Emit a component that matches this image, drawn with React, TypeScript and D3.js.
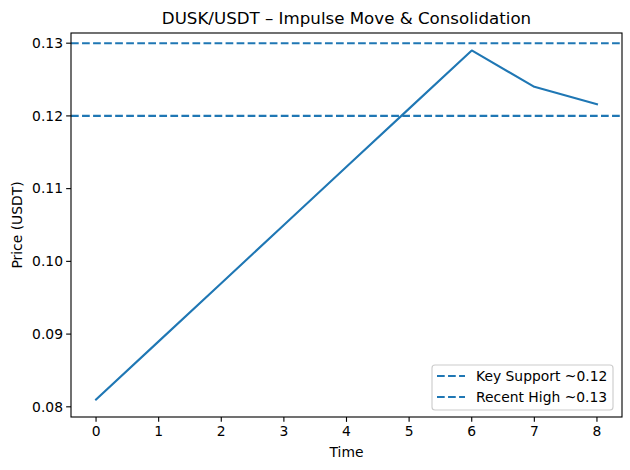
import React from "react";
import * as d3 from "d3";

const times = [0, 1, 2, 3, 4, 5, 6, 7, 8];
const prices = [0.081, 0.089, 0.097, 0.105, 0.113, 0.121, 0.129, 0.124, 0.1216];
const xTicks = [0, 1, 2, 3, 4, 5, 6, 7, 8];
const yTicks = [0.08, 0.09, 0.1, 0.11, 0.12, 0.13];
const levels = [
  { label: "Key Support ~0.12", value: 0.12 },
  { label: "Recent High ~0.13", value: 0.13 },
];

const W = 630, H = 470;
const L = 71, R = 622, T = 33, B = 417;
const C = "#1f77b4";
const FONT = "DejaVu Sans, sans-serif";
const PT = 100 / 72;
const FS = 10 * PT;
const TFS = 12 * PT;

export default function App() {
  const lo = d3.min(prices)!, hi = d3.max(prices)!;
  const pad = (hi - lo) * 0.05;
  const x = d3.scaleLinear().domain([-0.4, 8.4]).range([L, R]);
  const y = d3.scaleLinear().domain([lo - pad, hi + pad]).range([B, T]);
  const line = d3.line<number>().x((_, i) => x(times[i])).y((d) => y(d));
  const dash = `${5.55 * PT},${2.4 * PT}`;
  const lw = 1.5 * PT;
  const sw = 0.8 * PT;
  const tl = 3.5 * PT;
  return (
    <svg width={W} height={H} style={{ position: "absolute", left: 0, top: 0, background: "#fff" }} fontFamily={FONT}>
      <rect x={0} y={0} width={W} height={H} fill="#fff" />
      {levels.map((lv) => (
        <line key={lv.label} x1={L} x2={R} y1={y(lv.value)} y2={y(lv.value)} stroke={C} strokeWidth={lw} strokeDasharray={dash} />
      ))}
      <path d={line(prices)!} fill="none" stroke={C} strokeWidth={lw} strokeLinejoin="round" strokeLinecap="square" />
      <rect x={L} y={T} width={R - L} height={B - T} fill="none" stroke="#000" strokeWidth={sw} />
      {xTicks.map((t) => (
        <g key={t}>
          <line x1={x(t)} x2={x(t)} y1={B} y2={B + tl} stroke="#000" strokeWidth={sw} />
          <text x={x(t)} y={B + 19} textAnchor="middle" fill="#000" fontSize={FS}>{t}</text>
        </g>
      ))}
      {yTicks.map((t) => (
        <g key={t}>
          <line x1={L - tl} x2={L} y1={y(t)} y2={y(t)} stroke="#000" strokeWidth={sw} />
          <text x={L - 8} y={y(t)} dy="0.35em" textAnchor="end" fill="#000" fontSize={FS}>{t.toFixed(2)}</text>
        </g>
      ))}
      <text x={(L + R) / 2} y={24} textAnchor="middle" fill="#000" fontSize={TFS}>DUSK/USDT – Impulse Move &amp; Consolidation</text>
      <text x={(L + R) / 2} y={457} textAnchor="middle" fill="#000" fontSize={FS}>Time</text>
      <text transform={`translate(22,${(T + B) / 2}) rotate(-90)`} textAnchor="middle" fill="#000" fontSize={FS}>Price (USDT)</text>
      <g>
        <rect x={432} y={365} width={181} height={45} rx={3} fill="#fff" fillOpacity={0.8} stroke="#ccc" strokeWidth={sw} />
        {levels.map((lv, i) => (
          <g key={lv.label}>
            <line x1={437} x2={465} y1={376 + i * 21} y2={376 + i * 21} stroke={C} strokeWidth={lw} strokeDasharray={dash} />
            <text x={476} y={376 + i * 21} dy="0.35em" fill="#000" fontSize={FS}>{lv.label}</text>
          </g>
        ))}
      </g>
    </svg>
  );
}
